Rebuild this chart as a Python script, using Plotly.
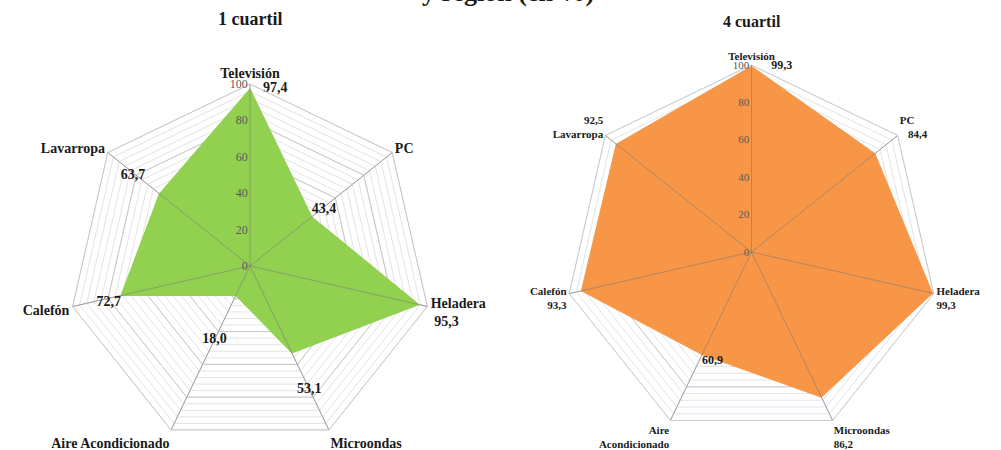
import plotly.graph_objects as go

# Datos: tenencia de bienes durables (%) por cuartil de ingreso
categorias = ["Televisión", "PC", "Heladera", "Microondas",
              "Aire Acondicionado", "Calefón", "Lavarropa"]
cuartil_1 = [97.4, 43.4, 95.3, 53.1, 18.0, 72.7, 63.7]
cuartil_4 = [99.3, 84.4, 99.3, 86.2, 60.9, 93.3, 92.5]
titulos = ["1 cuartil", "4 cuartil"]
titulo_general = "y región (en %)"
ticks_mayores = [0, 20, 40, 60, 80, 100]
paso_menor = 4

W, H = 1001, 450
SERIF = "Liberation Serif"


def fmt(v):
    return f"{v:.1f}".replace(".", ",")


# Estilo de cada panel. "junto_eje" marca los valores que se escriben
# junto al nombre de la categoría (fuera del polígono); el resto se
# escribe cerca del vértice con la posición y desplazamiento indicados.
paneles = [
    dict(
        valores=cuartil_1, titulo=titulos[0], color="#92D050",
        cx=250, cy=266, R=182, titulo_y=19, titulo_size=18,
        cat_size=14, val_size=14, tick_size=12,
        junto_eje=[False, False, True, False, False, False, False],
        formato_eje={"Heladera": "{c}<br>&nbsp;{v}"},
        pos=["middle right", "top right", "bottom right", "middle center",
             "middle center", "bottom left", "top left"],
        dr=[0, 0, 0, 22, 27, 0, 10],
        offset=[19, 0, 0, 0, 0, 0, 0],
        grid="#e3e3e3", mayor="#c8c8c8",
    ),
    dict(
        valores=cuartil_4, titulo=titulos[1], color="#F79646",
        cx=751.5, cy=252, R=187, titulo_y=22, titulo_size=16,
        cat_size=11, val_size=12, tick_size=11,
        junto_eje=[False, True, True, True, False, True, True],
        formato_eje={"PC": "{c}<br>&nbsp;&nbsp;&nbsp;{v}",
                     "Lavarropa": "{v}<br>{c}",
                     "Aire Acondicionado": "Aire<br>Acondicionado"},
        pos=["middle right", "bottom right", "bottom right", "bottom right",
             "bottom right", "bottom left", "top left"],
        dr=[0, 0, 0, 0, 0, 0, 0],
        offset=[30, 0, 0, 0, 0, 0, 0],
        grid="#dfe5ec", mayor="#c5ccd4",
    ),
]

fig = go.Figure()
layout_extra = {}
anotaciones = []

for i, p in enumerate(paneles, start=1):
    polar = "polar" if i == 1 else f"polar{i}"
    vals = p["valores"]

    # Anillos mayores de la grilla (cada 20)
    r_anillos, th_anillos = [], []
    for v in ticks_mayores[1:]:
        r_anillos += [v] * (len(categorias) + 1) + [None]
        th_anillos += categorias + [categorias[0], None]
    fig.add_trace(go.Scatterpolar(
        r=r_anillos, theta=th_anillos, mode="lines", subplot=polar,
        line=dict(color=p["mayor"], width=1), hoverinfo="skip",
        showlegend=False, connectgaps=False,
    ))

    # Área de la serie
    fig.add_trace(go.Scatterpolar(
        r=vals + [vals[0]], theta=categorias + [categorias[0]],
        mode="lines", fill="toself", fillcolor=p["color"],
        line=dict(color=p["color"], width=1), subplot=polar,
        showlegend=False, name=p["titulo"],
    ))

    # Radios por encima del área
    r_rad, th_rad = [], []
    for c in categorias:
        r_rad += [0, 100, None]
        th_rad += [c, c, None]
    fig.add_trace(go.Scatterpolar(
        r=r_rad, theta=th_rad, mode="lines", subplot=polar,
        line=dict(color="rgba(120,120,120,0.55)", width=1),
        hoverinfo="skip", showlegend=False, connectgaps=False,
    ))

    # Etiquetas de valor dentro del gráfico
    textos = ["" if j else fmt(v) for v, j in zip(vals, p["junto_eje"])]
    fig.add_trace(go.Scatterpolar(
        r=[v + d for v, d in zip(vals, p["dr"])], theta=categorias,
        mode="markers+text", text=textos,
        marker=dict(size=p["offset"], opacity=0),
        textposition=p["pos"], cliponaxis=False, subplot=polar,
        textfont=dict(family=SERIF, size=p["val_size"], color="#1a1a1a",
                      weight="bold"),
        hoverinfo="skip", showlegend=False,
    ))

    # Nombres de categoría (con el valor cuando corresponde)
    ticktext = []
    for c, v, j in zip(categorias, vals, p["junto_eje"]):
        plantilla = p["formato_eje"].get(c, "{c}<br>{v}" if j else "{c}")
        ticktext.append(plantilla.format(c=c, v=fmt(v)))

    cx, cy, R = p["cx"], p["cy"], p["R"]
    x0, x1 = (cx - R) / W, (cx + R) / W
    y0, y1 = (H - cy - R) / H, (H - cy + R) / H
    layout_extra[polar] = dict(
        domain=dict(x=[max(0, x0), min(1, x1)], y=[max(0, y0), min(1, y1)]),
        gridshape="linear",
        bgcolor="white",
        radialaxis=dict(
            range=[0, 100], angle=90, tickangle=90,
            tickvals=list(range(0, 101, paso_menor)),
            ticktext=[str(v) if v in ticks_mayores else ""
                      for v in range(0, 101, paso_menor)],
            showline=False, ticks="", gridcolor=p["grid"], gridwidth=0.8,
            tickfont=dict(family=SERIF, size=p["tick_size"], color="#595959"),
            side="counterclockwise", layer="above traces",
        ),
        angularaxis=dict(
            direction="clockwise", rotation=90,
            categoryorder="array", categoryarray=categorias,
            tickvals=categorias, ticktext=ticktext,
            showline=True, linecolor=p["mayor"], linewidth=1,
            gridcolor=p["mayor"], ticks="",
            tickfont=dict(family=SERIF, size=p["cat_size"], color="#1a1a1a",
                          weight="bold"),
        ),
    )
    anotaciones.append(dict(
        text=p["titulo"], x=cx / W, y=(H - p["titulo_y"]) / H,
        xref="paper", yref="paper", xanchor="center", yanchor="middle",
        showarrow=False,
        font=dict(family=SERIF, size=p["titulo_size"], color="#1a1a1a",
                  weight="bold"),
    ))

# Línea final del título general, que continúa por encima del área visible
anotaciones.append(dict(
    text=titulo_general, x=508 / W, y=(H + 8) / H,
    xref="paper", yref="paper", xanchor="center", yanchor="middle",
    showarrow=False,
    font=dict(family=SERIF, size=26, color="#1a1a1a", weight="bold"),
))

fig.update_layout(
    width=W, height=H,
    margin=dict(l=0, r=0, t=0, b=0),
    paper_bgcolor="white", plot_bgcolor="white",
    showlegend=False,
    annotations=anotaciones,
    **layout_extra,
)

fig.write_html("out.html")
